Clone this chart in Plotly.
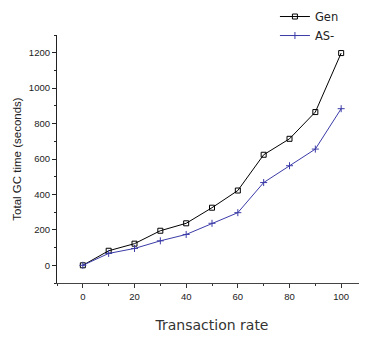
import plotly.graph_objects as go

rates = [0, 10, 20, 30, 40, 50, 60, 70, 80, 90, 100]
gen_times = [0, 82, 122, 195, 237, 325, 422, 624, 714, 865, 1198]
as_times = [0, 67, 95, 138, 174, 237, 297, 467, 562, 656, 884]
series_names = ["Gen", "AS-"]
x_ticks = [0, 20, 40, 60, 80, 100]
y_ticks = [0, 200, 400, 600, 800, 1000, 1200]

fig = go.Figure()
fig.add_trace(go.Scatter(
    x=rates, y=gen_times, name=series_names[0], mode="lines+markers",
    line=dict(color="black", width=1),
    marker=dict(symbol="square-open", size=5, color="black", line=dict(width=1)),
))
fig.add_trace(go.Scatter(
    x=rates, y=as_times, name=series_names[1], mode="lines+markers",
    line=dict(color="#3b3ba8", width=1),
    marker=dict(symbol="cross-thin-open", size=5, color="#3b3ba8", line=dict(width=1, color="#3b3ba8")),
))

axis_font = dict(family="Liberation Sans, Arial, sans-serif", size=9.5, color="#222")
fig.update_layout(
    width=367, height=337,
    margin=dict(l=49, r=8, t=27, b=62, autoexpand=False),
    paper_bgcolor="white", plot_bgcolor="white",
    showlegend=True,
    legend=dict(
        x=0.703, y=1.133, xanchor="left", yanchor="top",
        font=dict(family="DejaVu Sans, sans-serif", size=11.5, color="#222"),
        bgcolor="rgba(0,0,0,0)", itemwidth=30, tracegroupgap=0,
    ),
    xaxis=dict(
        range=[-10, 110], tickvals=x_ticks, ticks="outside", ticklen=4, tickwidth=1,
        tickcolor="#333", showline=True, linecolor="#444", linewidth=1.2,
        showgrid=False, zeroline=False, tickfont=axis_font,
        minor=dict(dtick=10, tick0=0, ticks="outside", ticklen=2, tickcolor="#333", showgrid=False),
        title=dict(text="Transaction rate", standoff=19,
                   font=dict(family="DejaVu Sans, sans-serif", size=14, color="#333")),
    ),
    yaxis=dict(
        range=[-100, 1300], tickvals=y_ticks, ticks="outside", ticklen=4, tickwidth=1,
        tickcolor="#222", showline=True, linecolor="#222", linewidth=1.2,
        showgrid=False, zeroline=False, tickfont=axis_font,
        minor=dict(dtick=100, tick0=0, ticks="outside", ticklen=2, tickcolor="#222", showgrid=False),
        title=dict(text="Total GC time (seconds)", standoff=4,
                   font=dict(family="Liberation Sans, Arial, sans-serif", size=11.5, color="#222")),
    ),
)

fig.write_html("out.html")
